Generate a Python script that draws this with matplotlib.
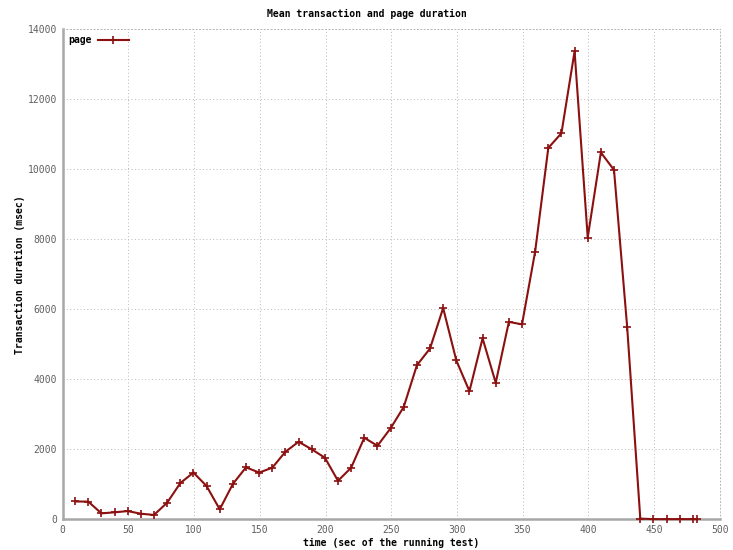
import matplotlib
matplotlib.use("Agg")
import matplotlib.pyplot as plt

# Zeitpunkte (sec) und mittlere Dauer (msec)
time_sec = [9.5, 19.5, 29.5, 39.5, 49.5, 59.5, 69.5, 79.5, 89.5, 99.5,
            109.5, 119.5, 129.5, 139.5, 149.5, 159.5, 169.5, 179.5, 189.5, 199.5,
            209.5, 219.5, 229.5, 239.5, 249.5, 259.5, 269.5, 279.5, 289.5, 299.5,
            309.5, 319.5, 329.5, 339.5, 349.5, 359.5, 369.5, 379.5, 389.5, 399.5,
            409.5, 419.5, 429.5, 439.5, 449.5, 459.5, 469.5, 479.5, 482.5]
page_msec = [510, 505, 170, 200, 235, 160, 125, 475, 1035, 1335,
             950, 285, 1010, 1485, 1335, 1475, 1930, 2215, 2000, 1760,
             1100, 1475, 2330, 2100, 2600, 3210, 4400, 4880, 6035, 4540,
             3660, 5170, 3900, 5640, 5570, 7650, 10610, 11030, 13370, 8050,
             10480, 9980, 5500, 20, 5, 5, 5, 5, 5]

x_ticks = [0, 50, 100, 150, 200, 250, 300, 350, 400, 450, 500]
y_ticks = [0, 2000, 4000, 6000, 8000, 10000, 12000, 14000]

fig = plt.figure(figsize=(7.33, 5.5), dpi=100)
ax = fig.add_axes([0.0855, 0.0558, 0.8965, 0.891])

ax.plot(time_sec, page_msec, color='#8b1010', linewidth=1.5,
        marker='+', markersize=6, markeredgewidth=1.2, label='page',
        clip_on=False, zorder=5)

ax.set_xlim(0, 500)
ax.set_ylim(0, 14000)
ax.set_xticks(x_ticks)
ax.set_yticks(y_ticks)

ax.grid(True, linestyle=(0, (1, 2.5)), color='#b8b8b8', linewidth=0.7)
for side in ['left', 'bottom']:
    ax.spines[side].set_color('#a8a8a8')
    ax.spines[side].set_linewidth(1.8)
for side in ['top', 'right']:
    ax.spines[side].set_color('#b8b8b8')
    ax.spines[side].set_linestyle((0, (1, 2.5)))
    ax.spines[side].set_linewidth(0.7)

ax.tick_params(length=0, labelsize=7, labelcolor='#606060', pad=4)
for lbl in ax.get_xticklabels() + ax.get_yticklabels():
    lbl.set_family('DejaVu Sans Mono')

fig.text(0.5, 0.975, 'Mean transaction and page duration', ha='center', va='center',
         fontsize=7, fontweight='bold', family='DejaVu Sans Mono')
ax.set_xlabel('time (sec of the running test)', fontsize=7, fontweight='bold',
              family='DejaVu Sans Mono', labelpad=2)
ax.set_ylabel('Transaction duration (msec)', fontsize=7, fontweight='bold',
              family='DejaVu Sans Mono', labelpad=2)

leg = ax.legend(loc='upper left', frameon=False, markerfirst=False,
                prop={'family': 'DejaVu Sans Mono', 'weight': 'bold', 'size': 7},
                handlelength=3.2, borderaxespad=0.2, handletextpad=0.6)

fig.savefig('out.png', dpi=100)
